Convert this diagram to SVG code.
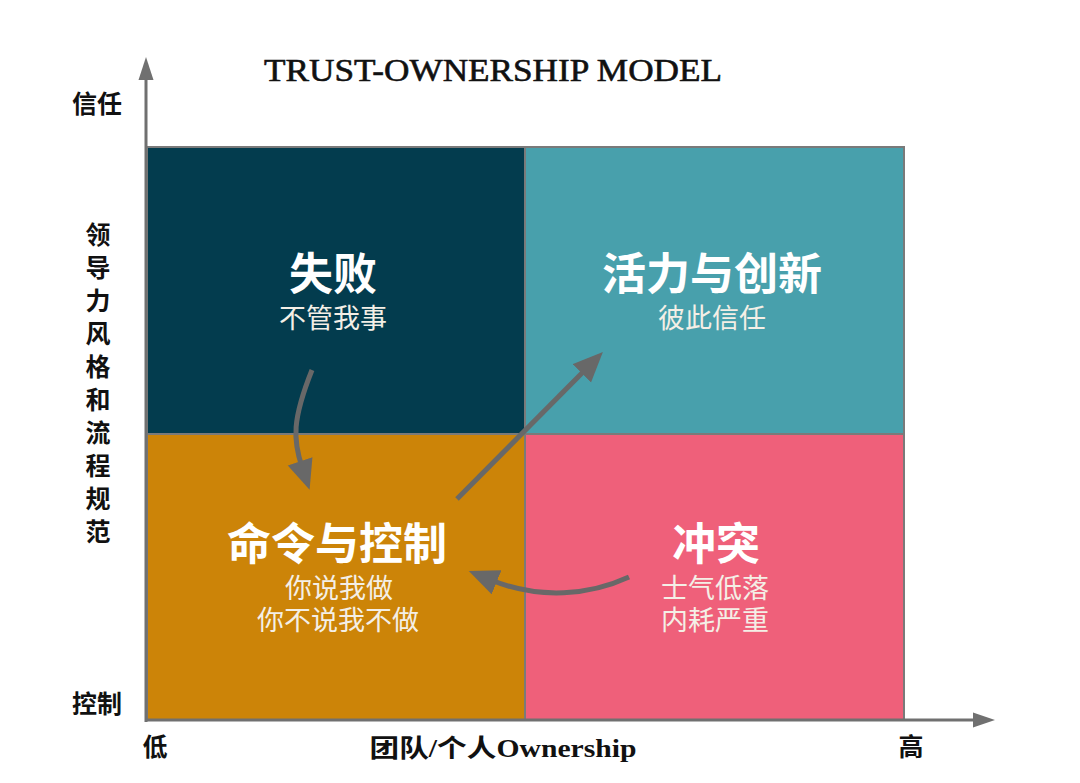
<svg xmlns="http://www.w3.org/2000/svg" width="1080" height="783" viewBox="0 0 1080 783">
<style>
.q{stroke:#7a7a7a;stroke-width:2}
.ttl{font-family:"Liberation Serif","Noto Sans CJK SC",serif;font-weight:bold;font-size:44px;fill:#ffffff;text-anchor:middle}
.sub{font-family:"Liberation Serif","Noto Sans CJK SC",serif;font-size:27px;fill:#f4efe6;text-anchor:middle}
.ax{font-family:"Liberation Serif","Noto Sans CJK SC",serif;font-weight:bold;font-size:25px;fill:#111111}
.conn{fill:none;stroke:#686868;stroke-width:5}
</style>
<defs>
<marker id="ah" markerUnits="userSpaceOnUse" markerWidth="32" markerHeight="28" refX="6" refY="13" orient="auto">
<path d="M0,0 L30,13 L0,26 z" fill="#686868"/>
</marker>
</defs>
<rect width="1080" height="783" fill="#ffffff"/>
<text x="493" y="81" text-anchor="middle" font-family="Liberation Serif, serif" font-size="32" fill="#111111" stroke="#111111" stroke-width="0.6" textLength="458" lengthAdjust="spacingAndGlyphs">TRUST-OWNERSHIP MODEL</text>
<g id="q-fail">
<rect class="q" x="147" y="147" width="378" height="287" fill="#033c4e"/>
<text class="ttl" x="333" y="290">失败</text>
<text class="sub" x="333" y="328">不管我事</text>
</g>
<g id="q-innovate">
<rect class="q" x="525" y="147" width="379" height="287" fill="#48a0ac"/>
<text class="ttl" x="712" y="290">活力与创新</text>
<text class="sub" x="712" y="328">彼此信任</text>
</g>
<g id="q-command">
<rect class="q" x="147" y="434" width="378" height="286" fill="#cc8408"/>
<text class="ttl" x="337" y="560">命令与控制</text>
<text class="sub" x="339" y="598">你说我做</text>
<text class="sub" x="338" y="630">你不说我不做</text>
</g>
<g id="q-conflict">
<rect class="q" x="525" y="434" width="379" height="286" fill="#ef607a"/>
<text class="ttl" x="716" y="560">冲突</text>
<text class="sub" x="715" y="598">士气低落</text>
<text class="sub" x="715" y="630">内耗严重</text>
</g>
<g id="axes">
<line x1="146" y1="722" x2="146" y2="76" stroke="#707070" stroke-width="3"/>
<polygon points="146,57 138.5,80 153.5,80" fill="#707070"/>
<line x1="145" y1="720" x2="976" y2="720" stroke="#707070" stroke-width="3"/>
<polygon points="995,720 973,712.5 973,727.5" fill="#707070"/>
<text class="ax" x="97" y="113" text-anchor="middle">信任</text>
<text class="ax" x="97" y="713" text-anchor="middle">控制</text>
<text class="ax" x="155" y="756" text-anchor="middle">低</text>
<text class="ax" x="911" y="756" text-anchor="middle">高</text>
<text class="ax" x="503" y="757" text-anchor="middle" textLength="267" lengthAdjust="spacingAndGlyphs">团队/个人Ownership</text>
<text class="ax" x="98" text-anchor="middle"><tspan x="98" y="244">领</tspan><tspan x="98" y="277">导</tspan><tspan x="98" y="310">力</tspan><tspan x="98" y="343">风</tspan><tspan x="98" y="376">格</tspan><tspan x="98" y="409">和</tspan><tspan x="98" y="442">流</tspan><tspan x="98" y="475">程</tspan><tspan x="98" y="508">规</tspan><tspan x="98" y="541">范</tspan></text>
</g>
<g id="connectors">
<path class="conn" d="M312,370 C292,420 293,440 302,467" marker-end="url(#ah)"/>
<path class="conn" d="M457,499 L586,369" marker-end="url(#ah)"/>
<path class="conn" d="M629,577 C590,595 540,600 491,580" marker-end="url(#ah)"/>
</g>
</svg>
